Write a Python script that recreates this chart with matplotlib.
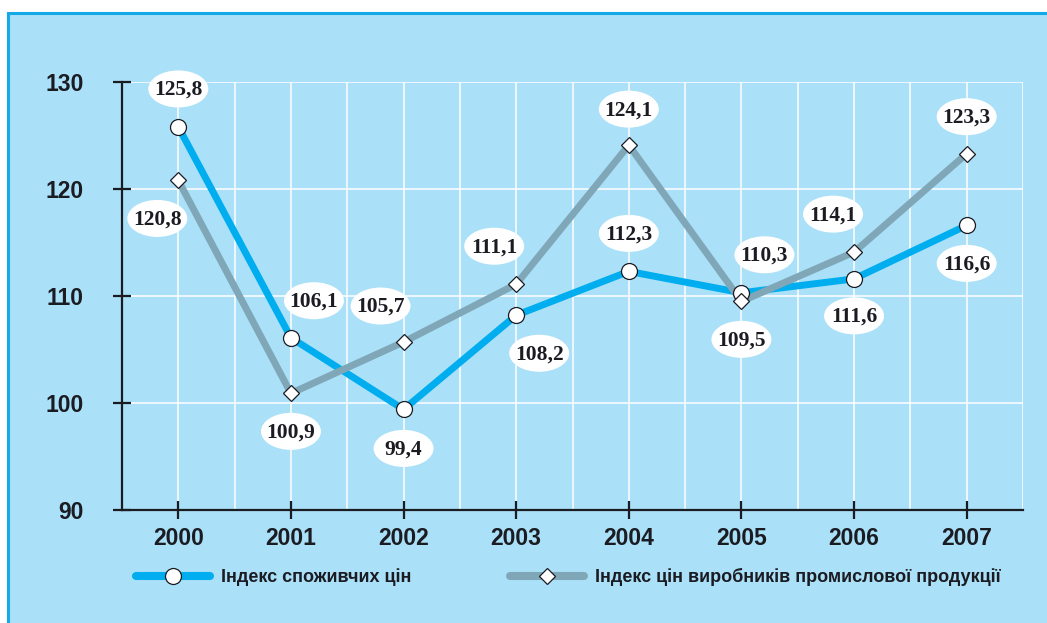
import matplotlib
matplotlib.use('Agg')
import matplotlib.pyplot as plt
from matplotlib.lines import Line2D
from matplotlib.patches import Rectangle, Ellipse
from matplotlib.transforms import ScaledTranslation

# data
years = ['2000', '2001', '2002', '2003', '2004', '2005', '2006', '2007']
cpi = [125.8, 106.1, 99.4, 108.2, 112.3, 110.3, 111.6, 116.6]
ppi = [120.8, 100.9, 105.7, 111.1, 124.1, 109.5, 114.1, 123.3]
cpi_name = 'Індекс споживчих цін'
ppi_name = 'Індекс цін виробників промислової продукції'

# label offsets in pixels from the point
cpi_dx = [0, 23, 0, 23, 0, 23, 0, 0]
cpi_dy = [38, 37, -39, -38, 38, 38, -37, -38]
ppi_dx = [-21, 0, -23, -22, 0, 0, -21, 0]
ppi_dy = [-38, -38, 36, 38, 36, -38, 38, 37]

BG = '#aae0f8'
BLUE = '#00aeef'
GREY = '#7fa7b8'
INK = '#1b1b22'

W, H = 1047, 623
fig = plt.figure(figsize=(W / 100, H / 100), dpi=100, facecolor='white')
fig.add_artist(Rectangle((8 / W, -0.01), 1.0, (H - 13) / H + 0.01, transform=fig.transFigure,
                         facecolor=BG, edgecolor='#14aae6', lw=2.2, zorder=-10))

ax = fig.add_axes([122 / W, 113 / H, (1023 - 122) / W, (510 - 82) / H])
ax.set_facecolor('none')
x = list(range(len(years)))

ax.set_xlim(-0.5, 7.5)
ax.set_ylim(90, 130)
ax.set_yticks([90, 100, 110, 120, 130])
ax.set_xticks(x)
ax.set_xticks([i + 0.5 for i in x], minor=True)
ax.set_xticklabels(years)

for s in ['top', 'right']:
    ax.spines[s].set_visible(False)
for s in ['left', 'bottom']:
    ax.spines[s].set_color(INK)
    ax.spines[s].set_linewidth(1.6)

ax.grid(True, which='both', axis='x', color='white', lw=1.1, zorder=0)
ax.grid(True, which='major', axis='y', color='white', lw=1.1, zorder=0)
ax.tick_params(axis='x', which='minor', length=0)
ax.tick_params(axis='both', which='major', direction='inout', length=13, width=1.6, color=INK,
               labelcolor=INK)
ax.tick_params(axis='y', pad=21)
ax.tick_params(axis='x', pad=6)
for lab in ax.get_xticklabels() + ax.get_yticklabels():
    lab.set_fontfamily('Liberation Sans')
    lab.set_fontweight('bold')
    lab.set_fontsize(16.5)
ax.set_axisbelow(True)

ax.plot(x, cpi, color=BLUE, lw=5, zorder=3, solid_joinstyle='miter')
ax.plot(x, ppi, color=GREY, lw=5, zorder=4, solid_joinstyle='miter')
ax.plot(x, cpi, ls='none', marker='o', ms=11.5, mfc='white', mec=INK, mew=0.9, zorder=5)
ax.plot(x, ppi, ls='none', marker='D', ms=8.5, mfc='white', mec=INK, mew=0.9, zorder=6)


def label(xi, v, dx, dy):
    tr = fig.dpi_scale_trans + ScaledTranslation(xi, v, ax.transData)
    ax.add_artist(Ellipse((dx / 100, dy / 100), 0.60, 0.37, transform=tr,
                          facecolor='white', edgecolor='none', zorder=7, clip_on=False))
    ax.annotate(f'{v:.1f}'.replace('.', ','), (xi, v), xytext=(dx, dy - 1),
                textcoords='offset pixels', ha='center', va='center',
                fontfamily='Liberation Serif', fontweight='bold', fontsize=15.5,
                color=INK, zorder=8)


for i in x:
    label(i, cpi[i], cpi_dx[i], cpi_dy[i])
    label(i, ppi[i], ppi_dx[i], ppi_dy[i])

# legend, two separate entries
h1 = Line2D([], [], color=BLUE, lw=5.8, solid_capstyle='round', marker='o', ms=11.5,
            mfc='white', mec=INK, mew=0.9)
h2 = Line2D([], [], color=GREY, lw=5.8, solid_capstyle='round', marker='D', ms=8.5,
            mfc='white', mec=INK, mew=0.9)
lp = dict(loc='center left', frameon=False, borderpad=0, borderaxespad=0, numpoints=1,
          handlelength=4.1, handletextpad=0.6,
          prop={'family': 'Liberation Sans', 'weight': 'bold', 'size': 13})
leg1 = fig.legend([h1], [cpi_name], bbox_to_anchor=(136 / W, 1 - 577 / H), **lp)
leg2 = fig.legend([h2], [ppi_name], bbox_to_anchor=(510 / W, 1 - 577 / H), **lp)
for t in leg1.get_texts() + leg2.get_texts():
    t.set_color(INK)

fig.savefig('out.png', dpi=100, facecolor=fig.get_facecolor())
